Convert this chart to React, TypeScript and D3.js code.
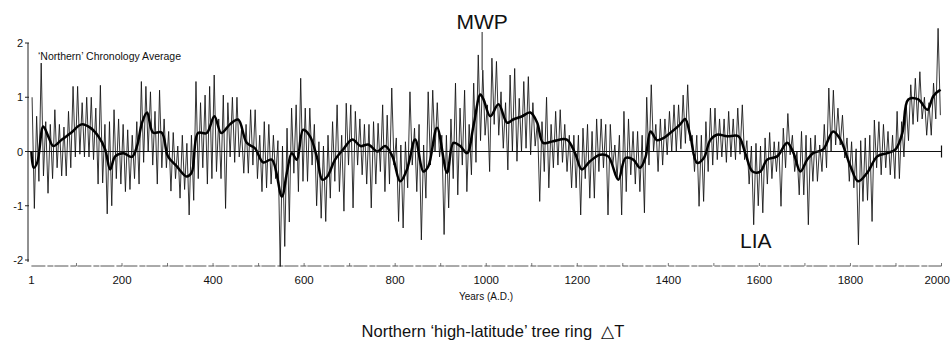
import React from 'react';
import * as d3 from 'd3';

const W = 951;
const H = 346;

// Decade bins (start year) for the annual series envelope
const decadeStarts = d3.range(0, 2000, 10);

// Highest annual value seen in each decade
const thinHigh = [
  1.0, 0.65, 1.63, 0.55, 0.5, 0.77, 0.5, 0.45, 0.74, 1.2,
  1.2, 0.9, 1.0, 1.0, 0.8, 1.22, 0.5, 0.55, 0.77, 0.6,
  0.5, 0.4, 0.3, 0.55, 1.29, 1.2, 1.1, 0.74, 1.13, 0.6,
  0.37, 0.35, 0.1, 0.3, 0.15, 0.3, 1.29, 0.9, 1.04, 1.2,
  1.41, 0.6, 1.04, 0.9, 1.0, 1.0, 0.4, 0.5, 0.77, 0.77,
  0.3, 0.55, 0.5, 0.3, 0.2, 0.1, 0.43, 0.8, 0.86, 1.35,
  0.8, 0.8, 0.5, 0.18, 0.1, 0.3, 0.55, 0.86, 0.3, 0.89,
  0.86, 0.74, 0.6, 0.5, 0.5, 0.55, 0.52, 0.86, 0.67, 1.17,
  0.25, 0.12, 0.18, 1.1, 0.43, 0.5, 0.12, 1.1, 1.13, 0.9,
  0.3, 0.3, 0.6, 1.26, 0.8, 1.13, 0.5, 1.26, 1.78, 1.5,
  0.86, 1.72, 1.66, 1.1, 0.9, 1.41, 1.53, 0.98, 1.29, 1.38,
  0.9, 0.55, 0.55, 1.0, 0.5, 0.74, 0.77, 0.5, 0.3, 0.3,
  0.3, 0.43, 0.5, 0.37, 0.6, 0.6, 0.5, 0.5, 0.12, 0.3,
  0.74, 0.6, 0.37, 0.37, 0.3, 1.0, 1.23, 0.5, 0.6, 0.6,
  0.74, 0.86, 0.86, 1.04, 1.23, 0.3, 0.3, 0.3, 0.55, 0.8,
  0.8, 0.6, 0.6, 0.74, 0.6, 0.8, 0.86, 0.2, 0.1, 0.15,
  0.1, 0.25, 0.35, 0.18, 0.18, 0.43, 0.7, 0.3, 0.0, 0.37,
  0.3, 0.25, 0.3, 0.12, 0.5, 1.17, 1.13, 0.8, 0.67, 0.25,
  0.18, 0.05, 0.2, 0.25, 0.3, 0.58, 0.55, 0.5, 0.37, 0.3,
  0.74, 0.55, 0.86, 1.23, 1.35, 1.47, 1.0, 0.9, 1.26, 2.27,
];

// Lowest annual value seen in each decade
const thinLow = [
  -1.05, -0.55, -0.45, -0.77, -0.5, -0.3, -0.45, -0.45, -0.3, -0.1,
  -0.05, -0.1, -0.1, -0.15, -0.6, -0.58, -1.15, -1.0, -0.5, -0.6,
  -0.74, -0.7, -0.5, -0.6, -0.2, 0.0, -0.25, -0.6, -0.3, -0.3,
  -0.73, -0.5, -0.86, -0.7, -1.17, -0.9, -0.5, -0.3, -0.6, -0.5,
  -0.37, -0.5, -1.05, -0.1, -0.2, -0.1, -0.4, -0.4, -0.25, -0.5,
  -0.74, -0.67, -0.6, -0.5, -2.12, -1.75, -1.3, -0.4, -0.74, -0.55,
  -0.55, -0.25, -1.0, -1.23, -1.29, -0.86, -0.55, -0.74, -1.1, -0.25,
  -1.04, -0.25, -0.43, -0.6, -1.04, -0.6, -0.37, -0.74, -0.6, -0.25,
  -1.29, -1.41, -0.67, -0.25, -0.74, -1.63, -0.86, -0.25, 0.0, -0.1,
  -1.53, -1.04, -0.5, -0.8, -0.25, -0.74, -0.43, -0.2, 0.2, 0.3,
  -0.37, 0.5, 0.3, 0.06, -0.34, 0.0, -0.18, 0.0, 0.06, -0.06,
  0.1, -0.92, -0.37, -0.67, -0.3, -0.25, -0.2, -0.37, -0.67, -0.67,
  -1.17, -0.5, -0.86, -0.86, -0.37, -0.3, -1.17, -0.3, -0.5, -1.17,
  -0.74, -0.43, -0.6, -0.74, -1.13, -0.25, 0.0, -0.37, -0.25, -0.06,
  0.0, 0.0, 0.05, 0.15, 0.2, -0.37, -1.01, -0.92, -0.37, -0.25,
  -0.15, -0.1, -0.2, -0.1, -0.15, -0.05, -0.15, -0.6, -1.35, -1.0,
  -1.13, -0.6, -0.5, -0.37, -1.01, -0.3, -0.06, -0.37, -0.8, -0.8,
  -1.35, -0.55, -0.55, -0.37, -0.3, 0.0, 0.12, 0.12, -0.12, -0.55,
  -0.67, -1.72, -0.92, -0.9, -1.29, -0.3, -0.43, -0.3, -0.43, -0.5,
  -0.5, -0.1, 0.2, 0.5, 0.55, 0.6, 0.3, 0.3, 0.6, 0.67,
];

// Smoothed chronology (thick line): [year, value]
const smoothed: [number, number][] = [
  [1, 0.0], [6, -0.3], [14, -0.2], [27, 0.46], [38, 0.28], [49, 0.1], [68, 0.22],
  [89, 0.35], [111, 0.5], [130, 0.44], [148, 0.28], [163, 0.04], [174, -0.33],
  [185, -0.09], [203, -0.03], [222, -0.1], [233, 0.1], [244, 0.53], [255, 0.72],
  [268, 0.35], [287, 0.35], [301, -0.09], [320, -0.27], [342, -0.46], [353, -0.39],
  [367, 0.34], [386, 0.34], [403, 0.65], [418, 0.34], [437, 0.5], [455, 0.59],
  [474, 0.16], [492, 0.06], [510, -0.2], [529, -0.15], [551, -0.83], [562, -0.4],
  [573, -0.03], [584, -0.15], [598, 0.4], [613, 0.28], [628, -0.1], [640, -0.52],
  [651, -0.46], [668, -0.15], [686, 0.04], [706, 0.22], [724, 0.1], [741, 0.13],
  [761, 0.0], [778, 0.1], [794, -0.09], [811, -0.55], [826, -0.33], [844, 0.22],
  [862, -0.37], [873, -0.27], [892, 0.44], [914, -0.39], [928, 0.16], [943, 0.1],
  [958, -0.03], [972, 0.47], [987, 1.05], [994, 0.96], [1009, 0.65], [1027, 0.87],
  [1046, 0.53], [1059, 0.59], [1079, 0.65], [1097, 0.72], [1112, 0.53], [1125, 0.16],
  [1147, 0.19], [1177, 0.22], [1195, -0.03], [1210, -0.33], [1228, -0.18],
  [1250, -0.06], [1268, -0.09], [1290, -0.52], [1306, -0.12], [1323, -0.15],
  [1338, -0.3], [1350, -0.1], [1361, 0.37], [1375, 0.21], [1390, 0.25], [1404, 0.34],
  [1426, 0.5], [1437, 0.6], [1448, 0.3], [1463, -0.21], [1478, -0.12], [1492, 0.21],
  [1507, 0.31], [1529, 0.28], [1554, 0.28], [1569, -0.03], [1585, -0.37],
  [1602, -0.37], [1617, -0.15], [1639, -0.09], [1661, 0.16], [1675, -0.03],
  [1690, -0.37], [1705, -0.15], [1718, -0.03], [1740, 0.04], [1762, 0.37],
  [1778, 0.22], [1800, -0.27], [1817, -0.55], [1837, -0.39], [1859, -0.09],
  [1881, -0.03], [1899, 0.04], [1914, 0.34], [1927, 0.96], [1949, 0.96],
  [1969, 0.77], [1982, 1.02], [1998, 1.14],
];

const yTicks = [2, 1, 0, -1, -2];
const xTickLabels = [1, 200, 400, 600, 800, 1000, 1200, 1400, 1600, 1800, 2000];
const xMinorTicks = [100, 200, 300, 400, 500, 600, 700, 800, 900, 1000, 1100, 1200, 1300, 1400, 1500, 1600, 1700, 1800, 1900, 2000];

const FONT = "'Liberation Sans', Arial, Helvetica, sans-serif";

export default function App() {
  const x = d3.scaleLinear().domain([1, 2000]).range([31.4, 941.5]);
  const y = d3.scaleLinear().domain([-2, 2]).range([260, 43]);

  const thinPts: [number, number][] = decadeStarts.flatMap((d, i) => [
    [d + 2.5, thinHigh[i]] as [number, number],
    [d + 7.5, thinLow[i]] as [number, number],
  ]);

  const thinLine = d3
    .line<[number, number]>()
    .x((p) => x(p[0]))
    .y((p) => y(p[1]))(thinPts) as string;

  const smoothLine = d3
    .line<[number, number]>()
    .x((p) => x(p[0]))
    .y((p) => y(p[1]))
    .curve(d3.curveCatmullRom.alpha(0.5))(smoothed) as string;

  const axisX = 28;
  const baseY = 266;
  const mwpX = x(991);

  return (
    <svg
      width={W}
      height={H}
      viewBox={`0 0 ${W} ${H}`}
      style={{ position: 'absolute', left: 0, top: 0, display: 'block', background: '#fff' }}
      fontFamily={FONT}
    >
      <rect x={0} y={0} width={W} height={H} fill="#fff" />

      {/* y axis */}
      <line x1={axisX} x2={axisX} y1={y(2)} y2={y(-2) + 2} stroke="#222" strokeWidth={1} />
      {yTicks.map((t) => (
        <g key={t}>
          <line x1={axisX - 3} x2={axisX + 1} y1={y(t)} y2={y(t)} stroke="#222" strokeWidth={1} />
          <text x={axisX - 5} y={y(t) + 4} textAnchor="end" fontSize={11} fill="#111">
            {t}
          </text>
        </g>
      ))}

      {/* bottom axis */}
      <line x1={x(1)} x2={x(2000)} y1={baseY} y2={baseY} stroke="#555" strokeWidth={1} strokeDasharray="14 2 6 1" />
      {xMinorTicks.map((t) => (
        <line key={t} x1={x(t)} x2={x(t)} y1={baseY} y2={baseY - 3} stroke="#555" strokeWidth={0.8} />
      ))}
      {xTickLabels.map((t) => (
        <text
          key={t}
          x={t === 2000 ? 950 : x(t)}
          y={284}
          textAnchor={t === 2000 ? 'end' : 'middle'}
          fontSize={11.5}
          fill="#111"
        >
          {t}
        </text>
      ))}
      <text x={486} y={300} textAnchor="middle" fontSize={10} fill="#111">
        Years (A.D.)
      </text>

      {/* annual series */}
      <path d={thinLine} fill="none" stroke="#111" strokeWidth={0.85} />
      {/* smoothed series */}
      <path d={smoothLine} fill="none" stroke="#000" strokeWidth={2.5} strokeLinejoin="round" />

      {/* zero line */}
      <line x1={axisX} x2={x(2000)} y1={y(0)} y2={y(0)} stroke="#111" strokeWidth={1} />
      <line x1={x(2000)} x2={x(2000)} y1={y(0) - 6} y2={y(0) + 6} stroke="#111" strokeWidth={1.2} />

      {/* annotations */}
      <text x={38} y={60} fontSize={10.5} fill="#111">
        ‘Northern’ Chronology Average
      </text>
      <text x={mwpX} y={29} textAnchor="middle" fontSize={21} fill="#111">
        MWP
      </text>
      <line x1={mwpX} x2={mwpX} y1={32} y2={70} stroke="#222" strokeWidth={1} />
      <text x={740} y={248} fontSize={21} fill="#111">
        LIA
      </text>

      <text x={493} y={337} textAnchor="middle" fontSize={16.5} fill="#111">
        Northern ‘high-latitude’ tree ring{'\u00A0\u00A0'}△T
      </text>
    </svg>
  );
}
